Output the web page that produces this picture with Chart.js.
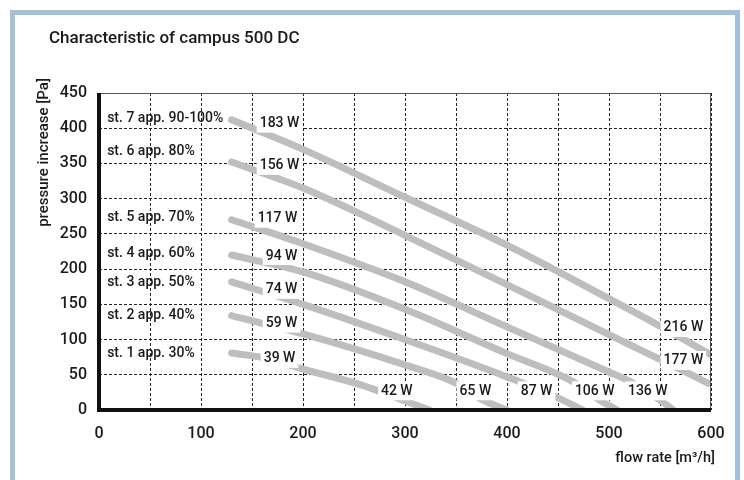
<!DOCTYPE html>
<html>
<head>
<meta charset="utf-8">
<script src="https://cdn.jsdelivr.net/npm/chart.js@4/dist/chart.umd.min.js"></script>
<style>
  html, body { margin: 0; padding: 0; background: #fff; }
  #frame { position: absolute; left: 10px; top: 10px; width: 720px; height: 480px; border: 5px solid #a3bfd9; border-bottom: none; }
  #wrap { position: absolute; left: 0; top: 0; width: 744px; height: 480px; }
</style>
</head>
<body>
<div id="frame"></div>
<div id="wrap"><canvas id="chart" width="744" height="480"></canvas></div>
<script>
// flow rate [m3/h] and pressure increase [Pa] per fan stage
const flowSt1 = [130, 165, 200, 256, 298, 324];
const pressureSt1 = [81, 73, 58, 36, 14, 0];
const flowSt2 = [130, 200, 300, 350, 375, 400];
const pressureSt2 = [134, 108, 64, 38, 15, 0];
const flowSt3 = [130, 200, 300, 400, 449, 474];
const pressureSt3 = [182, 150, 100, 47, 18, 0];
const flowSt4 = [130, 200, 300, 400, 465, 490, 508];
const pressureSt4 = [220, 196, 143, 80, 40, 15, 0];
const flowSt5 = [130, 200, 300, 400, 500, 520, 550, 563];
const pressureSt5 = [270, 236, 182, 118, 54, 41, 14, 0];
const flowSt6 = [130, 200, 300, 400, 500, 550, 597];
const pressureSt6 = [352, 315, 248, 178, 107, 72, 38];
const flowSt7 = [130, 200, 300, 400, 500, 550, 598];
const pressureSt7 = [412, 370, 302, 234, 158, 119, 80];

const stageNames = ["st. 1 app. 30%", "st. 2 app. 40%", "st. 3 app. 50%", "st. 4 app. 60%",
  "st. 5 app. 70%", "st. 6 app. 80%", "st. 7 app. 90-100%"];
const stagePressure = [81, 135, 182, 224, 274, 369, 415];

// power draw at the start and at the end of each curve
const wattStart = ["39 W", "59 W", "74 W", "94 W", "117 W", "156 W", "183 W"];
const wattStartFlow = [177, 179, 179, 179, 175, 177, 177];
const wattStartPressure = [74, 124, 172, 220, 273, 348, 408];
const wattEnd = ["42 W", "65 W", "87 W", "106 W", "136 W", "177 W", "216 W"];
const wattEndFlow = [292, 369, 429, 486, 538, 573, 573];
const wattEndPressure = [28, 28, 28, 28, 28, 71, 118];

const xTicks = [0, 100, 200, 300, 400, 500, 600];

const series = [
  [flowSt1, pressureSt1], [flowSt2, pressureSt2], [flowSt3, pressureSt3], [flowSt4, pressureSt4],
  [flowSt5, pressureSt5], [flowSt6, pressureSt6], [flowSt7, pressureSt7],
];

const FONT = "Roboto, 'DejaVu Sans', sans-serif";
const INK = "#1a1a1a";

const overlay = {
  id: "overlay",
  afterDatasetsDraw(chart) {
    const { ctx, chartArea: a } = chart;
    const xs = chart.scales.x, ys = chart.scales.y;
    ctx.save();

    // watt labels sit on white boxes that cut the curves
    ctx.font = `500 14px ${FONT}`;
    ctx.textAlign = "center";
    ctx.textBaseline = "middle";
    const box = (txt, fx, fy) => {
      const cx = xs.getPixelForValue(fx), cy = ys.getPixelForValue(fy);
      const w = ctx.measureText(txt).width + 6;
      ctx.fillStyle = "#fff";
      ctx.fillRect(cx - w / 2, cy - 9, w, 19);
      ctx.fillStyle = INK;
      ctx.fillText(txt, cx, cy + 1);
    };
    wattStart.forEach((t, i) => box(t, wattStartFlow[i], wattStartPressure[i]));
    wattEnd.forEach((t, i) => box(t, wattEndFlow[i], wattEndPressure[i]));

    ctx.textAlign = "left";
    stageNames.forEach((t, i) => {
      ctx.fillText(t, xs.getPixelForValue(8), ys.getPixelForValue(stagePressure[i]) + 1);
    });

    // thin top/right frame, heavy left/bottom axes
    ctx.strokeStyle = "#555";
    ctx.lineWidth = 1;
    ctx.beginPath();
    ctx.moveTo(a.left, a.top + 0.5);
    ctx.lineTo(a.right - 0.5, a.top + 0.5);
    ctx.lineTo(a.right - 0.5, a.bottom);
    ctx.stroke();
    ctx.fillStyle = "#111";
    ctx.fillRect(a.left - 2, a.top, 4, a.bottom - a.top + 2);
    ctx.fillRect(a.left - 2, a.bottom - 2, a.right - a.left + 2, 4);

    // titles
    ctx.fillStyle = INK;
    ctx.font = `500 17px ${FONT}`;
    ctx.textAlign = "left";
    ctx.fillText("Characteristic of campus 500 DC", 49, 39);
    ctx.font = `500 14.5px ${FONT}`;
    ctx.textAlign = "right";
    ctx.fillText("flow rate [m³/h]", 715, 458);
    ctx.translate(44, 78);
    ctx.rotate(-Math.PI / 2);
    ctx.font = `500 15px ${FONT}`;
    ctx.fillText("pressure increase [Pa]", 0, 0);
    ctx.restore();
  },
};

new Chart(document.getElementById("chart"), {
  type: "scatter",
  data: {
    datasets: series.map(([fx, py], i) => ({
      label: stageNames[i],
      data: fx.map((x, k) => ({ x, y: py[k] })),
      showLine: true,
      borderColor: "#bdbec0",
      borderWidth: 7,
      borderCapStyle: "round",
      pointRadius: 0,
      cubicInterpolationMode: "monotone",
    })),
  },
  options: {
    responsive: false,
    animation: false,
    events: [],
    layout: { padding: { top: 93, right: 33, left: 0, bottom: 0 } },
    plugins: { legend: { display: false }, tooltip: { enabled: false } },
    scales: {
      x: {
        type: "linear", min: 0, max: 600,
        afterFit: (s) => { s.height = 70; },
        grid: { color: "#222", lineWidth: 1, drawTicks: false },
        border: { display: false, dash: [3, 2] },
        ticks: {
          stepSize: 50, autoSkip: false, maxRotation: 0, padding: 14,
          color: INK, font: { family: FONT, size: 16, weight: "500" },
          callback: (v) => (xTicks.includes(v) ? String(v) : ""),
        },
      },
      y: {
        min: 0, max: 450,
        afterFit: (s) => { s.width = 99; },
        grid: { color: "#222", lineWidth: 1, drawTicks: false },
        border: { display: false, dash: [3, 2] },
        ticks: {
          stepSize: 50, padding: 12,
          color: INK, font: { family: FONT, size: 16, weight: "500" },
        },
      },
    },
  },
  plugins: [overlay],
});
</script>
</body>
</html>
